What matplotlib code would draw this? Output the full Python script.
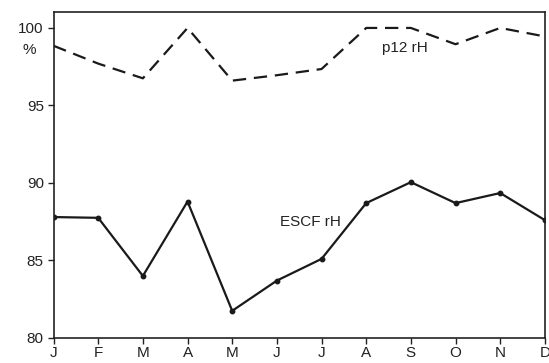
import matplotlib.pyplot as plt

plt.rcParams['font.family'] = ['Liberation Sans', 'DejaVu Sans']

months = ['J', 'F', 'M', 'A', 'M', 'J', 'J', 'A', 'S', 'O', 'N', 'D']
escf_rh = [87.8, 87.75, 84.0, 88.8, 81.75, 83.7, 85.1, 88.7, 90.05, 88.7, 89.35, 87.6]
p12_rh = [98.85, 97.7, 96.75, 100.0, 96.6, 96.95, 97.35, 100.0, 100.0, 98.95, 100.0, 99.45]
yticks = [80, 85, 90, 95, 100]

fig = plt.figure(figsize=(5.49, 3.63), dpi=100)
ax = fig.add_axes([0.0975, 0.069, 0.895, 0.898])

x = list(range(len(months)))
ax.plot(x, escf_rh, color='#1a1a1a', linewidth=1.6, marker='o', markersize=3.2)
ax.plot(x, p12_rh, color='#1a1a1a', linewidth=1.6, dashes=(6, 3.5))

ax.text(5.08, 87.5, 'ESCF rH', fontsize=11, color='#222222', ha='left', va='center')
ax.text(7.86, 98.7, 'p12 rH', fontsize=11, color='#222222', ha='center', va='center')
ax.text(-0.55, 98.6, '%', fontsize=11, color='#222222', ha='center', va='center',
        clip_on=False)

ax.set_xlim(0, 11)
ax.set_ylim(80, 101.03)
ax.set_xticks(x)
ax.set_xticklabels(months)
ax.set_yticks(yticks)
ax.tick_params(direction='out', length=4, width=1, labelsize=11, colors='#222222', pad=2)
ax.tick_params(axis='y', pad=3)
for s in ax.spines.values():
    s.set_linewidth(1.2)
    s.set_color('#222222')

fig.savefig('out.png', dpi=100)
